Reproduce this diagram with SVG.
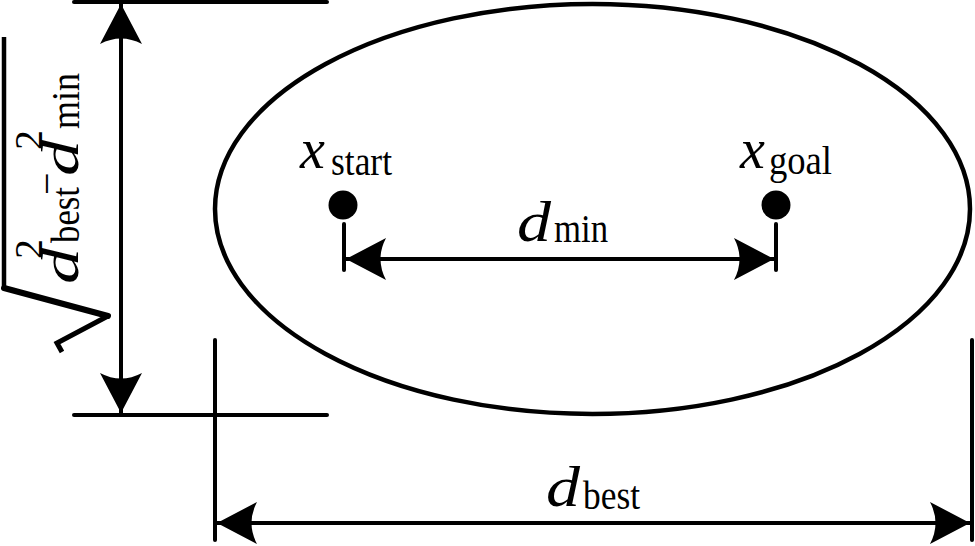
<svg xmlns="http://www.w3.org/2000/svg" width="975" height="546" viewBox="0 0 975 546">
  <style>
    .ln { stroke: #000; stroke-width: 4; fill: none; stroke-linecap: round; }
    .arr { stroke: #000; stroke-width: 4; fill: none; marker-start: url(#ah); marker-end: url(#ah); }
    .it { font-family: "Liberation Serif", "Times New Roman", serif; font-style: italic; font-size: 56px; fill: #000; }
    .itr { font-family: "Liberation Serif", "Times New Roman", serif; font-style: italic; font-size: 52px; fill: #000; }
    .sb { font-family: "Liberation Serif", "Times New Roman", serif; font-size: 40px; fill: #000; }
    .mn { font-family: "Liberation Serif", "Times New Roman", serif; font-size: 40px; fill: #000; }
  </style>
  <defs>
    <marker id="ah" viewBox="-42 -23 44 46" refX="0" refY="0" markerWidth="44" markerHeight="46" markerUnits="userSpaceOnUse" orient="auto-start-reverse">
      <path d="M0,0 L-40,-21 Q-29,0 -40,21 Z" fill="#000"/>
    </marker>
  </defs>
  <rect width="975" height="546" fill="#fff"/>

  <g id="ellipse">
    <ellipse cx="592.5" cy="209" rx="377.5" ry="205" fill="none" stroke="#000" stroke-width="4.5"/>
  </g>

  <g id="x-start">
    <circle cx="343" cy="205" r="14.5" fill="#000"/>
    <text class="it" x="300" y="168">x</text>
    <text class="sb" x="331" y="175" textLength="61" lengthAdjust="spacingAndGlyphs">start</text>
  </g>

  <g id="x-goal">
    <circle cx="776" cy="205" r="14.5" fill="#000"/>
    <text class="it" x="740" y="168">x</text>
    <text class="sb" x="769" y="174" textLength="63" lengthAdjust="spacingAndGlyphs">goal</text>
  </g>

  <g id="connectors">
    <line class="ln" x1="74" y1="2" x2="327" y2="2"/>
    <line class="ln" x1="74" y1="415" x2="327" y2="415"/>
    <line class="ln" x1="215" y1="340" x2="215" y2="540"/>
    <line class="ln" x1="972" y1="340" x2="972" y2="540"/>
    <line class="ln" x1="344" y1="224" x2="344" y2="270"/>
    <line class="ln" x1="776" y1="224" x2="776" y2="270"/>
    <line class="arr" x1="121" y1="4" x2="121" y2="413"/>
    <line class="arr" x1="346" y1="259" x2="774" y2="259"/>
    <line class="arr" x1="217" y1="523" x2="970" y2="523"/>
  </g>

  <g id="label-dmin">
    <text class="it" x="517" y="241" textLength="34" lengthAdjust="spacingAndGlyphs">d</text>
    <text class="sb" x="554" y="242" textLength="54" lengthAdjust="spacingAndGlyphs">min</text>
  </g>

  <g id="label-dbest">
    <text class="it" x="546" y="506" textLength="34" lengthAdjust="spacingAndGlyphs">d</text>
    <text class="sb" x="583" y="509" textLength="57" lengthAdjust="spacingAndGlyphs">best</text>
  </g>

  <g id="label-sqrt">
    <path d="M4,37 L4,288" stroke="#000" stroke-width="4.5" fill="none"/>
    <path d="M4,288 L108,316" stroke="#000" stroke-width="6" fill="none" stroke-linecap="round"/>
    <path d="M108,316 L57,343 L62,352" stroke="#000" stroke-width="5" fill="none" stroke-linejoin="miter"/>
    <g transform="translate(78,283) rotate(-90)">
      <text class="itr" x="-1" y="0" textLength="36" lengthAdjust="spacingAndGlyphs">d</text>
      <text class="sb" x="24" y="-36">2</text>
      <text class="sb" x="40" y="1" textLength="56" lengthAdjust="spacingAndGlyphs">best</text>
      <text class="mn" x="88" y="-18">−</text>
      <text class="itr" x="107" y="0" textLength="36" lengthAdjust="spacingAndGlyphs">d</text>
      <text class="sb" x="133" y="-36">2</text>
      <text class="sb" x="154" y="1" textLength="56" lengthAdjust="spacingAndGlyphs">min</text>
    </g>
  </g>
</svg>
